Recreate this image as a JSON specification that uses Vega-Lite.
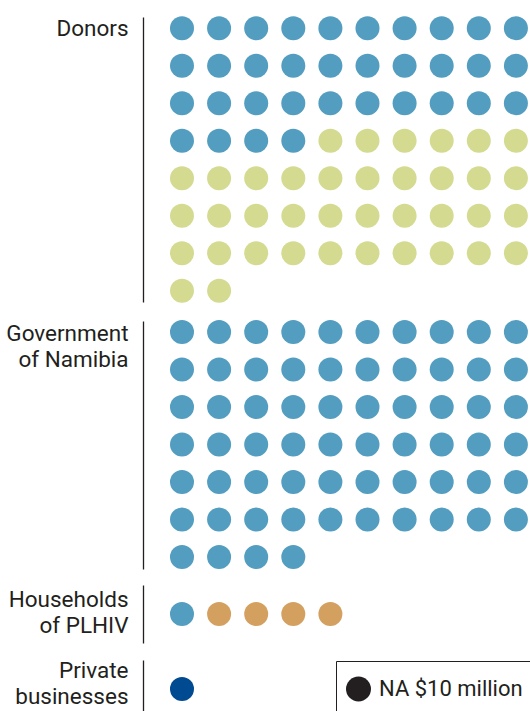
{
  "$schema": "https://vega.github.io/schema/vega-lite/v6.json",
  "padding": {"left": 5, "top": 16, "right": 0, "bottom": 0},
  "spacing": 16,
  "background": "white",
  "config": {
    "view": {"stroke": null},
    "axis": {"domainColor": "#231f20", "domainWidth": 1.3, "ticks": false, "labels": false, "grid": false, "titleAngle": 0, "titleAlign": "right", "titleBaseline": "alphabetic", "titleX": -15, "titleFont": "Roboto", "titleFontSize": 22.5, "titleFontWeight": "normal", "titleColor": "#231f20", "titleLineHeight": 26}
  },
  "data": {"values": [
    {"source":"Donors","row":0,"col":0,"type":"A"},{"source":"Donors","row":0,"col":1,"type":"A"},{"source":"Donors","row":0,"col":2,"type":"A"},{"source":"Donors","row":0,"col":3,"type":"A"},{"source":"Donors","row":0,"col":4,"type":"A"},{"source":"Donors","row":0,"col":5,"type":"A"},{"source":"Donors","row":0,"col":6,"type":"A"},{"source":"Donors","row":0,"col":7,"type":"A"},{"source":"Donors","row":0,"col":8,"type":"A"},{"source":"Donors","row":0,"col":9,"type":"A"},
    {"source":"Donors","row":1,"col":0,"type":"A"},{"source":"Donors","row":1,"col":1,"type":"A"},{"source":"Donors","row":1,"col":2,"type":"A"},{"source":"Donors","row":1,"col":3,"type":"A"},{"source":"Donors","row":1,"col":4,"type":"A"},{"source":"Donors","row":1,"col":5,"type":"A"},{"source":"Donors","row":1,"col":6,"type":"A"},{"source":"Donors","row":1,"col":7,"type":"A"},{"source":"Donors","row":1,"col":8,"type":"A"},{"source":"Donors","row":1,"col":9,"type":"A"},
    {"source":"Donors","row":2,"col":0,"type":"A"},{"source":"Donors","row":2,"col":1,"type":"A"},{"source":"Donors","row":2,"col":2,"type":"A"},{"source":"Donors","row":2,"col":3,"type":"A"},{"source":"Donors","row":2,"col":4,"type":"A"},{"source":"Donors","row":2,"col":5,"type":"A"},{"source":"Donors","row":2,"col":6,"type":"A"},{"source":"Donors","row":2,"col":7,"type":"A"},{"source":"Donors","row":2,"col":8,"type":"A"},{"source":"Donors","row":2,"col":9,"type":"A"},
    {"source":"Donors","row":3,"col":0,"type":"A"},{"source":"Donors","row":3,"col":1,"type":"A"},{"source":"Donors","row":3,"col":2,"type":"A"},{"source":"Donors","row":3,"col":3,"type":"A"},{"source":"Donors","row":3,"col":4,"type":"B"},{"source":"Donors","row":3,"col":5,"type":"B"},{"source":"Donors","row":3,"col":6,"type":"B"},{"source":"Donors","row":3,"col":7,"type":"B"},{"source":"Donors","row":3,"col":8,"type":"B"},{"source":"Donors","row":3,"col":9,"type":"B"},
    {"source":"Donors","row":4,"col":0,"type":"B"},{"source":"Donors","row":4,"col":1,"type":"B"},{"source":"Donors","row":4,"col":2,"type":"B"},{"source":"Donors","row":4,"col":3,"type":"B"},{"source":"Donors","row":4,"col":4,"type":"B"},{"source":"Donors","row":4,"col":5,"type":"B"},{"source":"Donors","row":4,"col":6,"type":"B"},{"source":"Donors","row":4,"col":7,"type":"B"},{"source":"Donors","row":4,"col":8,"type":"B"},{"source":"Donors","row":4,"col":9,"type":"B"},
    {"source":"Donors","row":5,"col":0,"type":"B"},{"source":"Donors","row":5,"col":1,"type":"B"},{"source":"Donors","row":5,"col":2,"type":"B"},{"source":"Donors","row":5,"col":3,"type":"B"},{"source":"Donors","row":5,"col":4,"type":"B"},{"source":"Donors","row":5,"col":5,"type":"B"},{"source":"Donors","row":5,"col":6,"type":"B"},{"source":"Donors","row":5,"col":7,"type":"B"},{"source":"Donors","row":5,"col":8,"type":"B"},{"source":"Donors","row":5,"col":9,"type":"B"},
    {"source":"Donors","row":6,"col":0,"type":"B"},{"source":"Donors","row":6,"col":1,"type":"B"},{"source":"Donors","row":6,"col":2,"type":"B"},{"source":"Donors","row":6,"col":3,"type":"B"},{"source":"Donors","row":6,"col":4,"type":"B"},{"source":"Donors","row":6,"col":5,"type":"B"},{"source":"Donors","row":6,"col":6,"type":"B"},{"source":"Donors","row":6,"col":7,"type":"B"},{"source":"Donors","row":6,"col":8,"type":"B"},{"source":"Donors","row":6,"col":9,"type":"B"},
    {"source":"Donors","row":7,"col":0,"type":"B"},{"source":"Donors","row":7,"col":1,"type":"B"},
    {"source":"Government","row":0,"col":0,"type":"A"},{"source":"Government","row":0,"col":1,"type":"A"},{"source":"Government","row":0,"col":2,"type":"A"},{"source":"Government","row":0,"col":3,"type":"A"},{"source":"Government","row":0,"col":4,"type":"A"},{"source":"Government","row":0,"col":5,"type":"A"},{"source":"Government","row":0,"col":6,"type":"A"},{"source":"Government","row":0,"col":7,"type":"A"},{"source":"Government","row":0,"col":8,"type":"A"},{"source":"Government","row":0,"col":9,"type":"A"},
    {"source":"Government","row":1,"col":0,"type":"A"},{"source":"Government","row":1,"col":1,"type":"A"},{"source":"Government","row":1,"col":2,"type":"A"},{"source":"Government","row":1,"col":3,"type":"A"},{"source":"Government","row":1,"col":4,"type":"A"},{"source":"Government","row":1,"col":5,"type":"A"},{"source":"Government","row":1,"col":6,"type":"A"},{"source":"Government","row":1,"col":7,"type":"A"},{"source":"Government","row":1,"col":8,"type":"A"},{"source":"Government","row":1,"col":9,"type":"A"},
    {"source":"Government","row":2,"col":0,"type":"A"},{"source":"Government","row":2,"col":1,"type":"A"},{"source":"Government","row":2,"col":2,"type":"A"},{"source":"Government","row":2,"col":3,"type":"A"},{"source":"Government","row":2,"col":4,"type":"A"},{"source":"Government","row":2,"col":5,"type":"A"},{"source":"Government","row":2,"col":6,"type":"A"},{"source":"Government","row":2,"col":7,"type":"A"},{"source":"Government","row":2,"col":8,"type":"A"},{"source":"Government","row":2,"col":9,"type":"A"},
    {"source":"Government","row":3,"col":0,"type":"A"},{"source":"Government","row":3,"col":1,"type":"A"},{"source":"Government","row":3,"col":2,"type":"A"},{"source":"Government","row":3,"col":3,"type":"A"},{"source":"Government","row":3,"col":4,"type":"A"},{"source":"Government","row":3,"col":5,"type":"A"},{"source":"Government","row":3,"col":6,"type":"A"},{"source":"Government","row":3,"col":7,"type":"A"},{"source":"Government","row":3,"col":8,"type":"A"},{"source":"Government","row":3,"col":9,"type":"A"},
    {"source":"Government","row":4,"col":0,"type":"A"},{"source":"Government","row":4,"col":1,"type":"A"},{"source":"Government","row":4,"col":2,"type":"A"},{"source":"Government","row":4,"col":3,"type":"A"},{"source":"Government","row":4,"col":4,"type":"A"},{"source":"Government","row":4,"col":5,"type":"A"},{"source":"Government","row":4,"col":6,"type":"A"},{"source":"Government","row":4,"col":7,"type":"A"},{"source":"Government","row":4,"col":8,"type":"A"},{"source":"Government","row":4,"col":9,"type":"A"},
    {"source":"Government","row":5,"col":0,"type":"A"},{"source":"Government","row":5,"col":1,"type":"A"},{"source":"Government","row":5,"col":2,"type":"A"},{"source":"Government","row":5,"col":3,"type":"A"},{"source":"Government","row":5,"col":4,"type":"A"},{"source":"Government","row":5,"col":5,"type":"A"},{"source":"Government","row":5,"col":6,"type":"A"},{"source":"Government","row":5,"col":7,"type":"A"},{"source":"Government","row":5,"col":8,"type":"A"},{"source":"Government","row":5,"col":9,"type":"A"},
    {"source":"Government","row":6,"col":0,"type":"A"},{"source":"Government","row":6,"col":1,"type":"A"},{"source":"Government","row":6,"col":2,"type":"A"},{"source":"Government","row":6,"col":3,"type":"A"},
    {"source":"Households","row":0,"col":0,"type":"A"},{"source":"Households","row":0,"col":1,"type":"C"},{"source":"Households","row":0,"col":2,"type":"C"},{"source":"Households","row":0,"col":3,"type":"C"},{"source":"Households","row":0,"col":4,"type":"C"},
    {"source":"Private","row":0,"col":0,"type":"D"}
  ]},
  "resolve": {"scale": {"x": "independent", "y": "independent"}},
  "vconcat": [
    {
      "width": 387, "height": 285,
      "transform": [{"filter": "datum.source === 'Donors'"}],
      "mark": {"type": "point", "filled": true, "size": 576, "opacity": 1},
      "encoding": {
        "x": {"field": "col", "type": "quantitative", "scale": {"domain": [-1.051, 9.38], "nice": false, "zero": false}, "axis": null},
        "y": {"field": "row", "type": "quantitative", "scale": {"domain": [-0.3, 7.3], "reverse": true, "nice": false, "zero": false}, "axis": {"title": "Donors", "titleY": 18}},
        "color": {"field": "type", "type": "nominal", "scale": {"domain": ["A", "B", "C", "D"], "range": ["#529dc0", "#d4db91", "#d4a060", "#004a91"]}, "legend": null}
      }
    },
    {
      "width": 387, "height": 248,
      "transform": [{"filter": "datum.source === 'Government'"}],
      "mark": {"type": "point", "filled": true, "size": 576, "opacity": 1},
      "encoding": {
        "x": {"field": "col", "type": "quantitative", "scale": {"domain": [-1.051, 9.38], "nice": false, "zero": false}, "axis": null},
        "y": {"field": "row", "type": "quantitative", "scale": {"domain": [-0.293, 6.32], "reverse": true, "nice": false, "zero": false}, "axis": {"title": ["Government", "of Namibia"], "titleY": 19}},
        "color": {"field": "type", "type": "nominal", "scale": {"domain": ["A", "B", "C", "D"], "range": ["#529dc0", "#d4db91", "#d4a060", "#004a91"]}, "legend": null}
      }
    },
    {
      "width": 387, "height": 58,
      "transform": [{"filter": "datum.source === 'Households'"}],
      "mark": {"type": "point", "filled": true, "size": 576, "opacity": 1},
      "encoding": {
        "x": {"field": "col", "type": "quantitative", "scale": {"domain": [-1.051, 9.38], "nice": false, "zero": false}, "axis": null},
        "y": {"field": "row", "type": "quantitative", "scale": {"domain": [-0.773, 0.773], "reverse": true, "nice": false, "zero": false}, "axis": {"title": ["Households", "of PLHIV"], "titleY": 21}},
        "color": {"field": "type", "type": "nominal", "scale": {"domain": ["A", "B", "C", "D"], "range": ["#529dc0", "#d4db91", "#d4a060", "#004a91"]}, "legend": null}
      }
    },
    {
      "width": 387, "height": 60,
      "transform": [{"filter": "datum.source === 'Private'"}],
      "mark": {"type": "point", "filled": true, "size": 576, "opacity": 1},
      "encoding": {
        "x": {"field": "col", "type": "quantitative", "scale": {"domain": [-1.051, 9.38], "nice": false, "zero": false}, "axis": null},
        "y": {"field": "row", "type": "quantitative", "scale": {"domain": [-0.773, 0.827], "reverse": true, "nice": false, "zero": false}, "axis": {"title": ["Private", "businesses"], "titleY": 17}},
        "color": {"field": "type", "type": "nominal", "scale": {"domain": ["A", "B", "C", "D"], "range": ["#529dc0", "#d4db91", "#d4a060", "#004a91"]}, "legend": null},
        "shape": {"datum": "NA $10 million", "type": "nominal", "scale": {"range": ["circle"]}, "legend": {"title": null, "orient": "none", "legendX": 193, "legendY": 644, "strokeColor": "#231f20", "padding": 10, "clipHeight": 36, "symbolSize": 625, "symbolType": "circle", "symbolFillColor": "#231f20", "symbolStrokeColor": "#231f20", "symbolStrokeWidth": 0, "symbolOpacity": 1, "labelFontSize": 22, "labelFont": "Roboto", "labelColor": "#231f20", "labelOffset": 8, "labelLimit": 0}}
      }
    }
  ]
}
